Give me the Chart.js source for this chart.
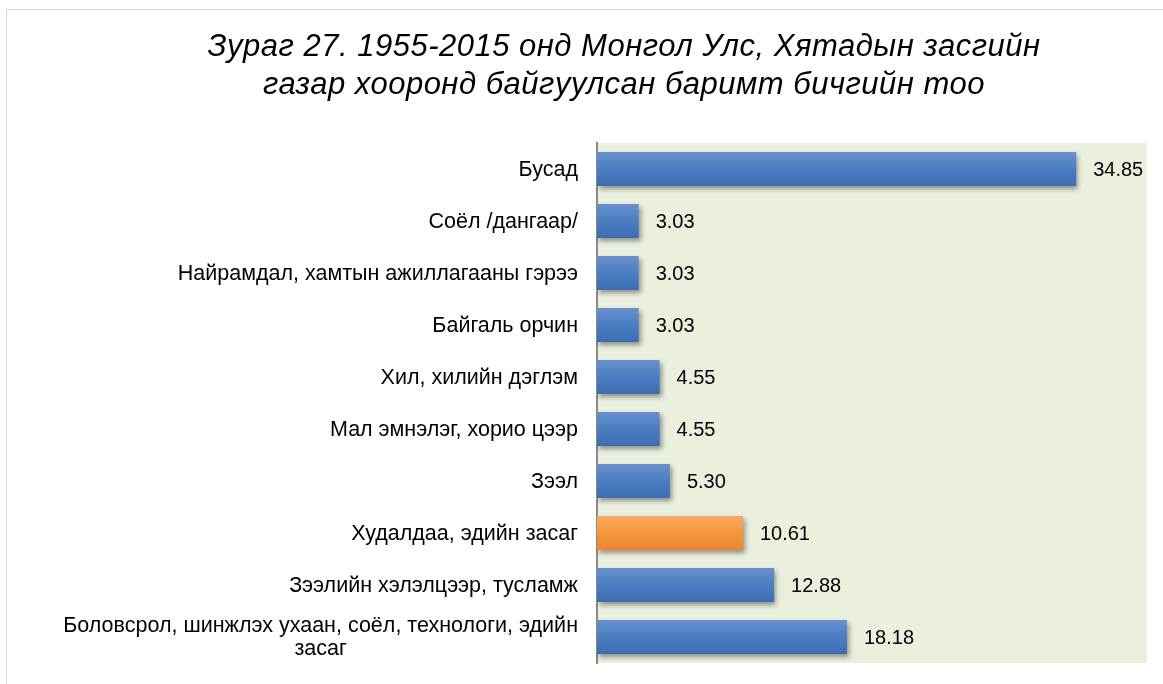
<!DOCTYPE html>
<html>
<head>
<meta charset="utf-8">
<script src="https://cdn.jsdelivr.net/npm/chart.js@4/dist/chart.umd.min.js"></script>
<style>
    html, body { margin: 0; padding: 0; background: #ffffff; overflow: hidden; }
    #wrap { position: relative; width: 1163px; height: 684px; }
    #frame { position: absolute; left: 6px; top: 9px; width: 1300px; height: 800px;
             border-left: 1px solid #d9d9d9; border-top: 1px solid #d9d9d9; }
    canvas { position: absolute; left: 0; top: 0; }
</style>
</head>
<body>
<div id="wrap">
    <div id="frame"></div>
    <canvas id="grafico" width="1163" height="684"></canvas>
</div>
<script>
const tituloLinhas = [
    'Зураг 27. 1955-2015 онд Монгол Улс, Хятадын засгийн',
    'газар хооронд байгуулсан баримт бичгийн тоо'
];

const categorias = [
    ['Бусад'],
    ['Соёл /дангаар/'],
    ['Найрамдал, хамтын ажиллагааны гэрээ'],
    ['Байгаль орчин'],
    ['Хил, хилийн дэглэм'],
    ['Мал эмнэлэг, хорио цээр'],
    ['Зээл'],
    ['Худалдаа, эдийн засаг'],
    ['Зээлийн хэлэлцээр, тусламж'],
    ['Боловсрол, шинжлэх ухаан, соёл, технологи, эдийн', 'засаг']
];

const valores = [34.85, 3.03, 3.03, 3.03, 4.55, 4.55, 5.30, 10.61, 12.88, 18.18];

const destaque = 7;

const fonte = 'Arial, "Liberation Sans", sans-serif';

function gradienteBarra(context) {
    const chart = context.chart;
    const area = chart.chartArea;
    const destacado = context.dataIndex === destaque;
    if (!area) {
        return destacado ? '#f7953f' : '#4a7cc0';
    }
    const escalaY = chart.scales.y;
    const centro = escalaY.getPixelForValue(context.dataIndex);
    const meia = 17;
    const grad = chart.ctx.createLinearGradient(0, centro - meia, 0, centro + meia);
    if (destacado) {
        grad.addColorStop(0, '#fbaa62');
        grad.addColorStop(0.5, '#f7963f');
        grad.addColorStop(1, '#ec842b');
    } else {
        grad.addColorStop(0, '#6a90cc');
        grad.addColorStop(0.5, '#4a7ec2');
        grad.addColorStop(1, '#3b6cb0');
    }
    return grad;
}

const pluginFundo = {
    id: 'fundo',
    beforeDraw(chart) {
        const { ctx, chartArea } = chart;
        ctx.save();
        ctx.fillStyle = '#ebefde';
        ctx.fillRect(chartArea.left, chartArea.top, chartArea.right - chartArea.left, chartArea.bottom - chartArea.top);
        ctx.restore();
    },
    beforeDatasetDraw(chart) {
        const ctx = chart.ctx;
        ctx.save();
        ctx.shadowColor = 'rgba(0,0,0,0.4)';
        ctx.shadowBlur = 5;
        ctx.shadowOffsetX = 2;
        ctx.shadowOffsetY = 3;
    },
    afterDatasetDraw(chart) {
        chart.ctx.restore();
    }
};

const pluginTextos = {
    id: 'textos',
    afterDraw(chart) {
        const ctx = chart.ctx;
        const escalaX = chart.scales.x;
        const escalaY = chart.scales.y;

        ctx.save();

        // titulo
        ctx.fillStyle = '#000000';
        ctx.font = 'italic 31px ' + fonte;
        ctx.letterSpacing = '0.5px';
        ctx.textAlign = 'center';
        ctx.textBaseline = 'middle';
        tituloLinhas.forEach((linha, i) => {
            ctx.fillText(linha, 624, 47 + i * 38);
        });
        ctx.letterSpacing = '0px';

        // rotulos das categorias
        ctx.font = '21.5px ' + fonte;
        ctx.fillStyle = '#000000';
        const direita = escalaY.right - 19;
        categorias.forEach((linhas, i) => {
            const centro = escalaY.getPixelForTick(i);
            const alturaLinha = 23;
            const inicio = centro - (linhas.length - 1) * alturaLinha / 2;
            const largura = ctx.measureText(linhas[0]).width;
            linhas.forEach((linha, j) => {
                if (j === 0) {
                    ctx.textAlign = 'right';
                    ctx.fillText(linha, direita, inicio + 1);
                } else {
                    ctx.textAlign = 'center';
                    ctx.fillText(linha, direita - largura / 2, inicio + j * alturaLinha + 1);
                }
            });
        });

        // valores
        ctx.font = '20px ' + fonte;
        ctx.textAlign = 'left';
        valores.forEach((valor, i) => {
            const x = escalaX.getPixelForValue(valor) + 17;
            const y = escalaY.getPixelForValue(i) + 1;
            ctx.fillText(valor.toFixed(2), x, y);
        });

        ctx.restore();
    }
};

const contexto = document.getElementById('grafico').getContext('2d');

new Chart(contexto, {
    type: 'bar',
    data: {
        labels: categorias.map((c) => c.join(' ')),
        datasets: [
            {
                data: valores,
                backgroundColor: gradienteBarra,
                borderWidth: 0,
                barPercentage: 0.65,
                categoryPercentage: 1
            }
        ]
    },
    options: {
        indexAxis: 'y',
        responsive: false,
        animation: false,
        layout: {
            padding: { top: 143, right: 16, bottom: 21, left: 0 }
        },
        scales: {
            x: {
                display: false,
                min: 0,
                max: 40
            },
            y: {
                afterFit(escala) {
                    escala.width = 597;
                },
                grid: { display: false, drawTicks: false },
                border: { display: true, color: '#8a8a8a', width: 2 },
                ticks: { display: false }
            }
        },
        plugins: {
            legend: { display: false },
            tooltip: { enabled: false }
        }
    },
    plugins: [pluginFundo, pluginTextos]
});
</script>
</body>
</html>
